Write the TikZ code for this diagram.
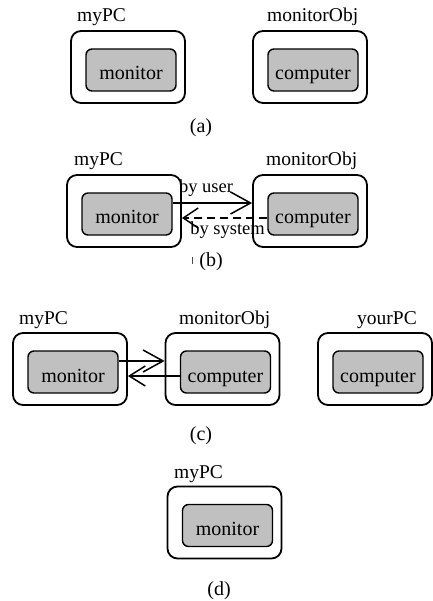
\documentclass[tikz,border=0pt]{standalone}
\usepackage{fontspec}
\setmainfont{Liberation Serif}
\usetikzlibrary{arrows.meta}
\definecolor{partgray}{RGB}{192,192,192}

\begin{document}
\begin{tikzpicture}
[ x=1pt, y=-1pt
, object/.style={rectangle, draw, line width=1.8pt, rounded corners=10pt, minimum width=114pt, minimum height=72pt}
, part/.style={rectangle, draw, fill=partgray, line width=1.4pt, rounded corners=6pt, minimum width=90pt, minimum height=42pt, inner sep=0pt, text height=20pt, text depth=0pt, font=\fontsize{20}{24}\selectfont, xshift=3pt, yshift=-3pt}
, objname/.style={anchor=base west, inner sep=0pt, font=\fontsize{19.5}{23}\selectfont}
, caption/.style={inner sep=0pt, font=\fontsize{20}{24}\selectfont}
, msgtext/.style={anchor=base, inner sep=0pt, font=\fontsize{18.5}{22}\selectfont}
, call/.style={line width=1.5pt, -{Straight Barb[length=20pt, width=22pt, line width=1.5pt]}}
, reply/.style={line width=1.5pt, -{Straight Barb[length=16pt, width=20pt, line width=1.5pt]}}
, sysreply/.style={line width=2.6pt, dash pattern=on 8pt off 5pt, -{Straight Barb[length=15pt, width=20pt, line width=1.5pt]}}
]
\useasboundingbox (0,0) rectangle (432,601);
% Panel (a):
\node (ma1) [object] at (128,67) {};
\node (pa1) [part] at (ma1) {monitor};
\node (na1) [objname] at (77,22) {myPC};
\node (ma2) [object] at (310,67) {};
\node (pa2) [part] at (ma2) {computer};
\node (na2) [objname] at (267,22) {monitorObj};
\node (capa) [caption] at (201,128) {(a)};
% Panel (b):
\node (mb1) [object] at (124,211) {};
\node (pb1) [part] at (mb1) {monitor};
\node (nb1) [objname] at (74,166) {myPC};
\node (mb2) [object] at (310,211) {};
\node (pb2) [part] at (mb2) {computer};
\node (nb2) [objname] at (266,166) {monitorObj};
\draw [call] ([yshift=11pt]pb1.east) -- ([yshift=11pt]pb1.east -| mb2.west)
  node [msgtext, pos=0.42, yshift=10pt] {by user};
\draw [sysreply] ([yshift=-4pt]pb2.west) -- ([yshift=-4pt]pb2.west -| mb1.east)
  node [msgtext, pos=0.465, yshift=-17pt] {by system};
\node (capb) [caption] at (211,262) {(b)};
\draw [line width=0.9pt, black!70] ([xshift=-19pt, yshift=5pt]capb.center) -- ++(0,7);
% Panel (c):
\node (mc1) [object] at (70,369) {};
\node (pc1) [part] at (mc1) {monitor};
\node (nc1) [objname] at (19,324) {myPC};
\node (mc2) [object] at (222.5,369) {};
\node (pc2) [part] at (mc2) {computer};
\node (nc2) [objname] at (179,324) {monitorObj};
\node (mc3) [object] at (375,369) {};
\node (pc3) [part] at (mc3) {computer};
\node (nc3) [objname] at (357,324) {yourPC};
\draw [call] ([yshift=11pt]pc1.east) -- ([yshift=11pt]pc1.east -| mc2.west);
\draw [reply] ([yshift=-4pt]pc2.west) -- ([yshift=-4pt]pc2.west -| mc1.east);
\node (capc) [caption] at (201,436) {(c)};
% Panel (d):
\node (md1) [object] at (224.5,522.5) {};
\node (pd1) [part] at (md1) {monitor};
\node (nd1) [objname] at (174,478) {myPC};
\node (capd) [caption] at (219,591) {(d)};
\end{tikzpicture}
\end{document}
